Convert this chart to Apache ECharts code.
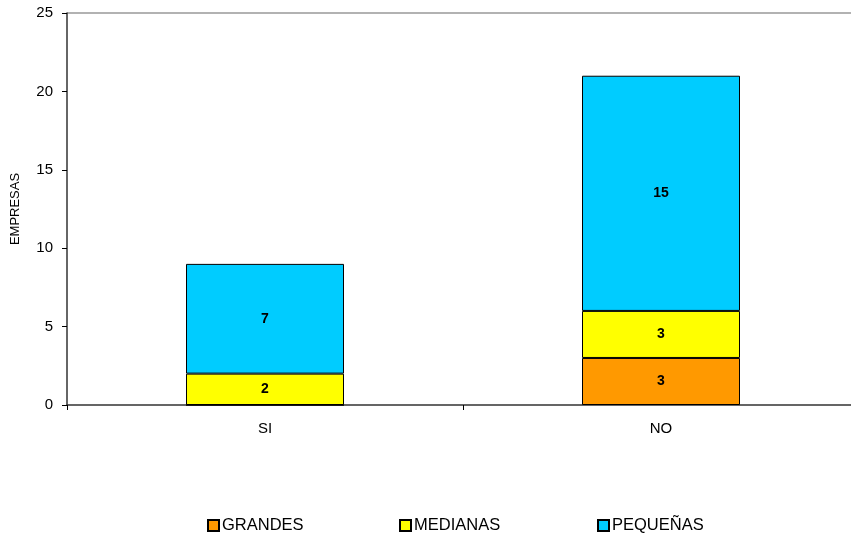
<!DOCTYPE html>
<html><head><meta charset="utf-8">
<script src="https://cdn.jsdelivr.net/npm/echarts@6/dist/echarts.min.js"></script>
<style>html,body{margin:0;padding:0;background:#fff}#c{width:851px;height:535px}</style>
</head><body><div id="c"></div>
<script>
const categories = ['SI', 'NO'];
const grandes = [0, 3];
const medianas = [2, 3];
const pequenas = [7, 15];
const yTicks = [0, 5, 10, 15, 20, 25];

const chart = echarts.init(document.getElementById('c'));
const font = 'Liberation Sans, Arial, sans-serif';
const lbl = {show: true, position: 'inside', color: '#000', fontWeight: 'bold', fontSize: 14, fontFamily: font,
  formatter: p => p.value ? p.value : ''};
function ser(name, data, color) {
  return {name, type: 'bar', stack: 's', data, barWidth: 158,
    itemStyle: {color, borderColor: '#000', borderWidth: 1}, label: lbl};
}
chart.setOption({
  animation: false,
  textStyle: {fontFamily: font},
  grid: {left: 67, width: 792, top: 13, height: 392, outerBoundsMode: 'none', containLabel: false},
  xAxis: {type: 'category', data: categories,
    axisLine: {lineStyle: {color: '#333', width: 1.5}},
    axisTick: {show: true, alignWithLabel: false, length: 5, lineStyle: {color: '#000'}},
    axisLabel: {color: '#000', fontSize: 15, margin: 16}},
  yAxis: {type: 'value', min: yTicks[0], max: yTicks[yTicks.length - 1], interval: 5,
    name: 'EMPRESAS', nameLocation: 'middle', nameGap: 45, nameRotate: 90,
    nameTextStyle: {color: '#000', fontSize: 13},
    axisLine: {show: true, lineStyle: {color: '#333', width: 1.5}},
    axisTick: {show: true, length: 5, lineStyle: {color: '#000'}},
    axisLabel: {color: '#000', fontSize: 15, margin: 14},
    splitLine: {show: true, lineStyle: {color: ['rgba(0,0,0,0)', 'rgba(0,0,0,0)', 'rgba(0,0,0,0)', 'rgba(0,0,0,0)', 'rgba(0,0,0,0)', '#999'], width: 1.5}}},
  legend: [
    {data: ['GRANDES'], left: 202, top: 512},
    {data: ['MEDIANAS'], left: 394, top: 512},
    {data: ['PEQUEÑAS'], left: 592, top: 512}
  ].map(l => Object.assign(l, {icon: 'rect', itemWidth: 11, itemHeight: 11, itemGap: 4,
    textStyle: {color: '#000', fontSize: 16.5, padding: [0, 0, 0, -2]}})),
  series: [
    ser('GRANDES', grandes, '#FF9900'),
    ser('MEDIANAS', medianas, '#FFFF00'),
    ser('PEQUEÑAS', pequenas, '#00CCFF')
  ]
});
</script></body></html>
